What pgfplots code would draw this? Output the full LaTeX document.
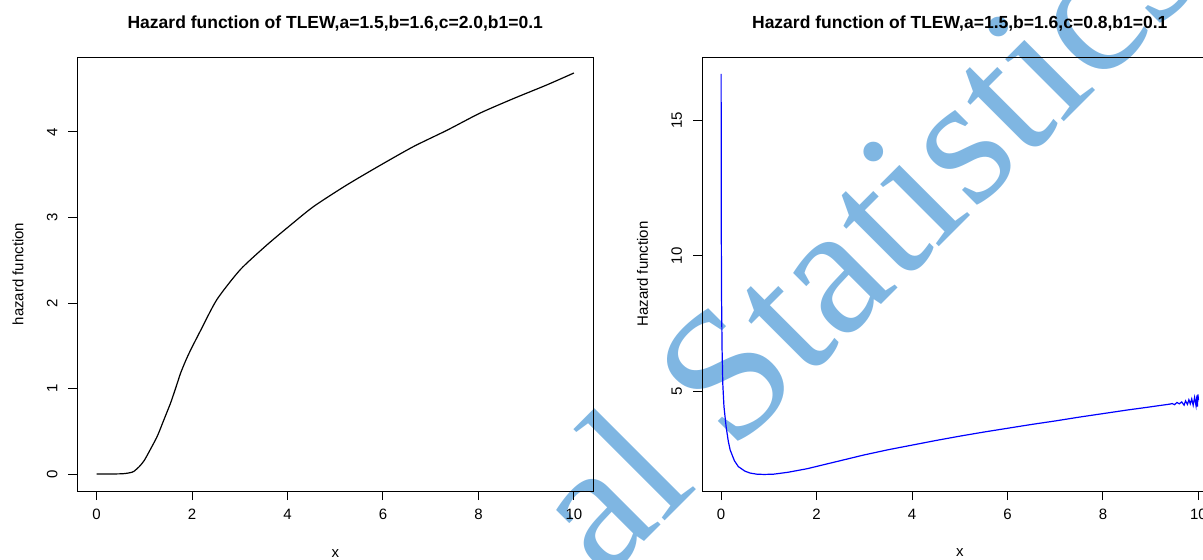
\documentclass[border=0pt]{standalone}
\usepackage{fontspec}
\setmainfont{Liberation Sans}
\newfontfamily\wmfont{Liberation Serif}
\usepackage{pgfplots}
\pgfplotsset{compat=1.18}
\definecolor{wm}{RGB}{127,182,226}
\pgfplotstableread{
x y
0 0
0.25 0
0.5 0.002
0.6 0.006
0.7 0.015
0.78 0.03
0.9 0.09
1.0 0.16
1.1 0.26
1.27 0.44
1.4 0.62
1.55 0.83
1.66 1.01
1.76 1.18
1.87 1.33
1.97 1.45
2.18 1.68
2.52 2.04
3.01 2.39
3.57 2.68
4.06 2.91
4.55 3.13
5.24 3.38
5.94 3.61
6.64 3.83
7.34 4.02
8.03 4.22
8.73 4.39
9.43 4.55
10 4.69
}\lefttab
\pgfplotstableread{
x y
0.0005 16.7
0.002 13.5
0.005 10.5
0.01 8.4
0.02 6.6
0.035 5.3
0.06 4.45
0.105 3.71
0.15 3.18
0.19 2.85
0.28 2.45
0.36 2.24
0.5 2.07
0.61 2.0
0.75 1.96
0.9 1.95
1.1 1.96
1.4 2.03
1.8 2.16
2.2 2.33
2.6 2.5
3.0 2.67
3.5 2.86
4.0 3.03
4.5 3.2
5.0 3.36
5.5 3.51
6.0 3.65
6.5 3.79
7.0 3.92
7.5 4.06
8.0 4.19
8.5 4.32
9.0 4.44
9.4 4.54
9.45 4.56
9.5 4.52
9.55 4.6
9.6 4.55
9.65 4.62
9.7 4.5
9.73 4.66
9.77 4.53
9.8 4.7
9.83 4.55
9.86 4.73
9.89 4.5
9.92 4.79
9.95 4.48
9.97 4.86
9.98 4.45
9.99 4.9
10 4.69
}\righttab
\pgfplotsset{
 rstyle/.style={
  scale only axis, width=257.75pt, height=217pt,
  anchor=north west,
  xmin=-0.4, xmax=10.4,
  xtick={0,2,...,10},
  tick align=outside, xtick pos=left, ytick pos=left,
  major tick length=4.5pt,
  every tick/.style={black, line width=0.5pt},
  axis line style={line width=0.5pt, black},
  tick label style={font=\fontsize{7.5}{9}\selectfont},
  yticklabel style={rotate=90, anchor=south},
  xticklabel shift=1pt,
  yticklabel shift=2pt,
  /pgf/number format/assume math mode=true,
  label style={font=\fontsize{7.5}{9}\selectfont},
  title style={font=\bfseries\fontsize{8.75}{10.5}\selectfont, at={(axis description cs:0.5,1.037)}, anchor=base},
  xlabel={x},
  xlabel style={at={(axis description cs:0.5,-0.1429)}, anchor=center},
  ylabel style={at={(axis description cs:-0.1155,0.5)}, anchor=center},
 }
}
\begin{document}
\begin{tikzpicture}
\useasboundingbox (0pt,0pt) rectangle (601.5pt,-279.5pt);
\clip (0pt,0pt) rectangle (601.5pt,-279.5pt);
\node[anchor=base west, rotate=45, text=wm, font=\wmfont\fontsize{93}{93}\selectfont, inner sep=0pt] at (302pt,-291pt) {al Statistics};
\begin{axis}[rstyle, at={(38.75pt,-28.5pt)},
  ymin=-0.199, ymax=4.877, ytick={0,1,2,3,4},
  title={Hazard function of TLEW,a=1.5,b=1.6,c=2.0,b1=0.1},
  ylabel={hazard function}]
\addplot[black, line width=0.6pt, smooth, tension=0.4] table[x=x,y=y] {\lefttab};
\end{axis}
\begin{axis}[rstyle, at={(351pt,-28.5pt)},
  ymin=1.34, ymax=17.32, ytick={5,10,15},
  title={Hazard function of TLEW,a=1.5,b=1.6,c=0.8,b1=0.1},
  ylabel={Hazard function}]
\addplot[blue, line width=0.6pt] table[x=x,y=y] {\righttab};
\end{axis}
\end{tikzpicture}
\end{document}
